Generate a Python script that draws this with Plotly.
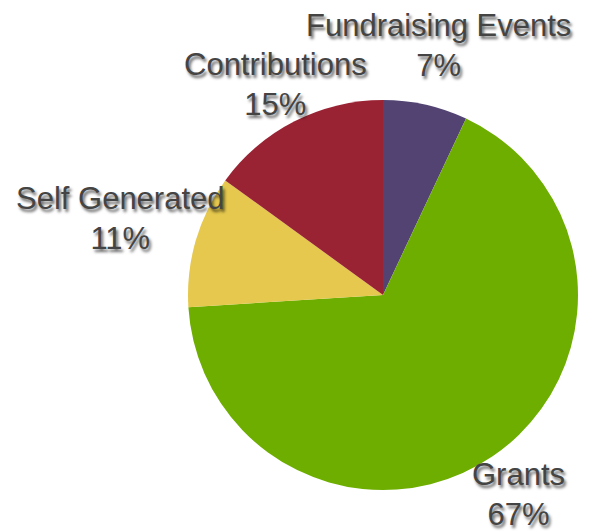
import math
import plotly.graph_objects as go

categories = ["Fundraising Events", "Grants", "Self Generated", "Contributions"]
values = [7, 67, 11, 15]
colors = ["#524372", "#6DAE00", "#E5C84D", "#9A2333"]

W, H = 590, 531
CX, CY, R = 383, 295, 195  # pie center/radius in pixels
LABEL_R = [1.31, 1.235, 1.40, 1.21]  # label distance as multiple of radius

fig = go.Figure(go.Pie(
    labels=categories,
    values=values,
    marker=dict(colors=colors, line=dict(width=0)),
    sort=False,
    direction="clockwise",
    rotation=0,
    textinfo="none",
    hoverinfo="label+percent",
    showlegend=False,
    domain=dict(x=[(CX - R) / W, (CX + R) / W], y=[1 - (CY + R) / H, 1 - (CY - R) / H]),
))

total = sum(values)
cum = 0
annotations = []
for cat, v, lr in zip(categories, values, LABEL_R):
    mid = (cum + v / 2) / total * 2 * math.pi
    cum += v
    px = CX + R * lr * math.sin(mid)
    py = CY - R * lr * math.cos(mid)
    pct = round(v / total * 100)
    annotations.append(dict(
        x=px / W, y=1 - py / H, xref="paper", yref="paper",
        text=f"{cat}<br>{pct}%", showarrow=False,
        xanchor="center", yanchor="middle", align="center",
        font=dict(family="Liberation Sans, Arial, sans-serif", size=31, color="#444444",
                  shadow="2px 3px 3px rgba(0,0,0,0.6)"),
    ))

fig.update_layout(
    width=W, height=H,
    margin=dict(l=0, r=0, t=0, b=0),
    paper_bgcolor="white",
    plot_bgcolor="white",
    annotations=annotations,
)

fig.write_html("out.html")
